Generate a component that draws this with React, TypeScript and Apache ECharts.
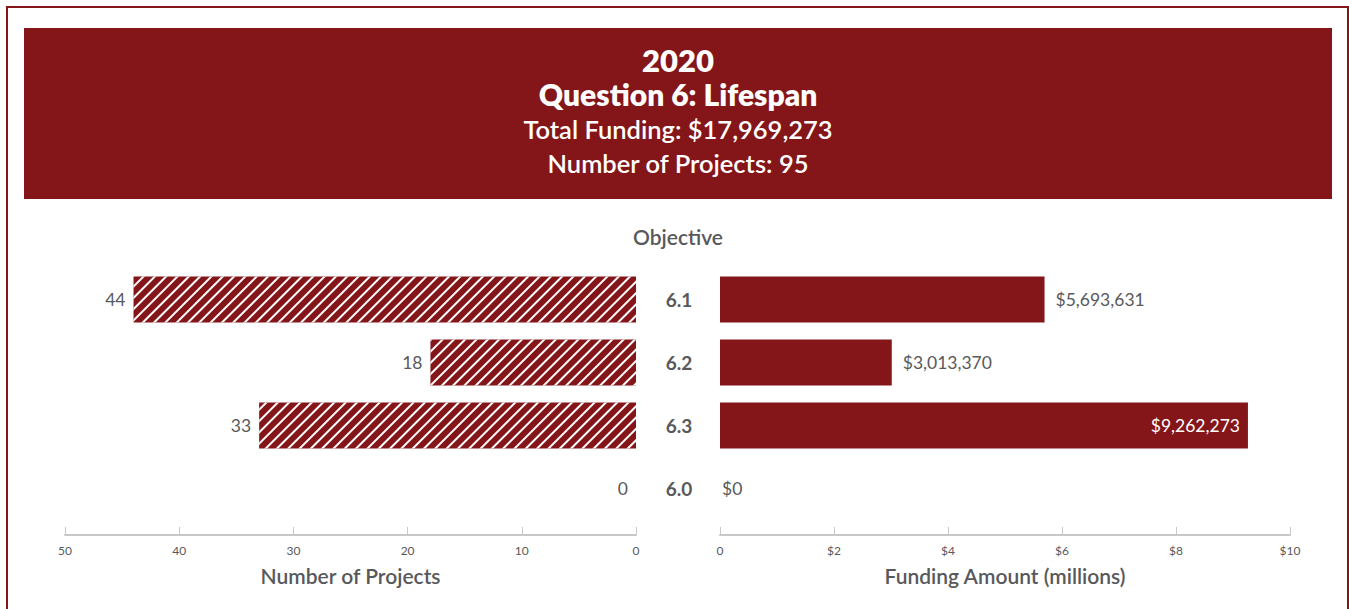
import React, { useEffect, useRef } from "react";
import * as echarts from "echarts";

const categories = ["6.1", "6.2", "6.3", "6.0"];
const projectCounts = [44, 18, 33, 0];
const fundingAmounts = [5693631, 3013370, 9262273, 0];
const countTicks = { min: 0, max: 50, interval: 10 };
const fundingTicks = { min: 0, max: 10000000, interval: 2000000 };
const headerLines = [
  "2020",
  "Question 6: Lifespan",
  "Total Funding: $17,969,273",
  "Number of Projects: 95",
];

const RED = "#84161a";
const GREY = "#58595b";
const FONT = "Lato, 'Open Sans', sans-serif";

export default function App() {
  const ref = useRef<HTMLDivElement>(null);
  useEffect(() => {
    document.body.style.margin = "0";
    const chart = echarts.init(ref.current!, null, { renderer: "svg" });
    const fmtMoney = (v: number) => "$" + v.toLocaleString("en-US");
    const axisCommon = {
      axisLine: { show: true, lineStyle: { color: "#c8c8c8", width: 2 } },
      axisTick: { show: true, inside: true, length: 8, lineStyle: { color: "#c8c8c8", width: 1 } },
      splitLine: { show: false },
      nameLocation: "middle" as const,
      nameGap: 30,
      nameTextStyle: { color: GREY, fontSize: 21, fontWeight: 600, fontFamily: FONT },
    };
    const headerSizes = [31, 30, 25.5, 25.5];
    const headerY = [60, 94, 129, 163];
    chart.setOption({
      animation: false,
      textStyle: { fontFamily: FONT },
      graphic: [
        {
          type: "rect",
          shape: { x: 7, y: 7, width: 1341, height: 640 },
          style: { fill: "#fff", stroke: RED, lineWidth: 2 },
          z: -10,
        },
        {
          type: "rect",
          shape: { x: 24, y: 28, width: 1308, height: 171 },
          style: { fill: RED },
          z: -5,
        },
        ...headerLines.map((t, i) => ({
          type: "text",
          x: 678,
          y: headerY[i],
          style: {
            text: t,
            fill: "#fff",
            fontFamily: FONT,
            fontSize: headerSizes[i],
            fontWeight: i < 2 ? 800 : 600,
            align: "center",
            verticalAlign: "middle",
          },
        })),
        {
          type: "text",
          x: 678,
          y: 236,
          style: {
            text: "Objective",
            fill: GREY,
            fontFamily: FONT,
            fontSize: 21,
            fontWeight: 600,
            align: "center",
            verticalAlign: "middle",
          },
        },
      ],
      grid: [
        { left: 65, width: 571, top: 268, bottom: 89, containLabel: false },
        { left: 720, width: 570, top: 268, bottom: 89, containLabel: false },
      ],
      xAxis: [
        {
          ...axisCommon,
          gridIndex: 0,
          type: "value",
          inverse: true,
          position: "bottom",
          offset: 15,
          ...countTicks,
          name: "Number of Projects",
          axisLabel: { color: GREY, fontSize: 12, margin: 9, fontFamily: FONT },
        },
        {
          ...axisCommon,
          gridIndex: 1,
          type: "value",
          position: "bottom",
          offset: 15,
          ...fundingTicks,
          name: "Funding Amount (millions)",
          axisLabel: {
            color: GREY,
            fontSize: 12,
            margin: 9,
            fontFamily: FONT,
            formatter: (v: number) => (v === 0 ? "0" : "$" + v / 1000000),
          },
        },
      ],
      yAxis: [
        {
          gridIndex: 0,
          type: "category",
          data: categories,
          inverse: true,
          position: "right",
          axisLine: { show: false },
          axisTick: { show: false },
          axisLabel: {
            color: GREY,
            fontSize: 19,
            fontWeight: 700,
            margin: 43,
            align: "center",
            fontFamily: FONT,
          },
        },
        {
          gridIndex: 1,
          type: "category",
          data: categories,
          inverse: true,
          axisLine: { show: false },
          axisTick: { show: false },
          axisLabel: { show: false },
        },
      ],
      series: [
        {
          type: "bar",
          xAxisIndex: 0,
          yAxisIndex: 0,
          data: projectCounts,
          barWidth: 46,
          itemStyle: {
            color: RED,
            decal: {
              symbol: "rect",
              symbolSize: 1,
              dashArrayX: [1, 0],
              dashArrayY: [1.1, 6],
              rotation: -Math.PI / 4,
              color: "#ffffff",
            },
          },
          label: {
            show: true,
            position: "left",
            distance: 8,
            color: GREY,
            fontSize: 17.5,
            fontFamily: FONT,
          },
        },
        {
          type: "bar",
          xAxisIndex: 1,
          yAxisIndex: 1,
          barWidth: 46,
          itemStyle: { color: RED },
          data: fundingAmounts.map((v) => ({
            value: v,
            label:
              v > 0.8 * fundingTicks.max
                ? { position: "insideRight", color: "#fff", distance: 8 }
                : { position: "right", color: GREY, distance: v === 0 ? 2 : 11 },
          })),
          label: {
            show: true,
            fontSize: 17.5,
            fontFamily: FONT,
            formatter: (p: any) => fmtMoney(p.value),
          },
        },
      ],
    });
    return () => chart.dispose();
  }, []);
  return <div ref={ref} style={{ width: 1349, height: 609 }} />;
}
